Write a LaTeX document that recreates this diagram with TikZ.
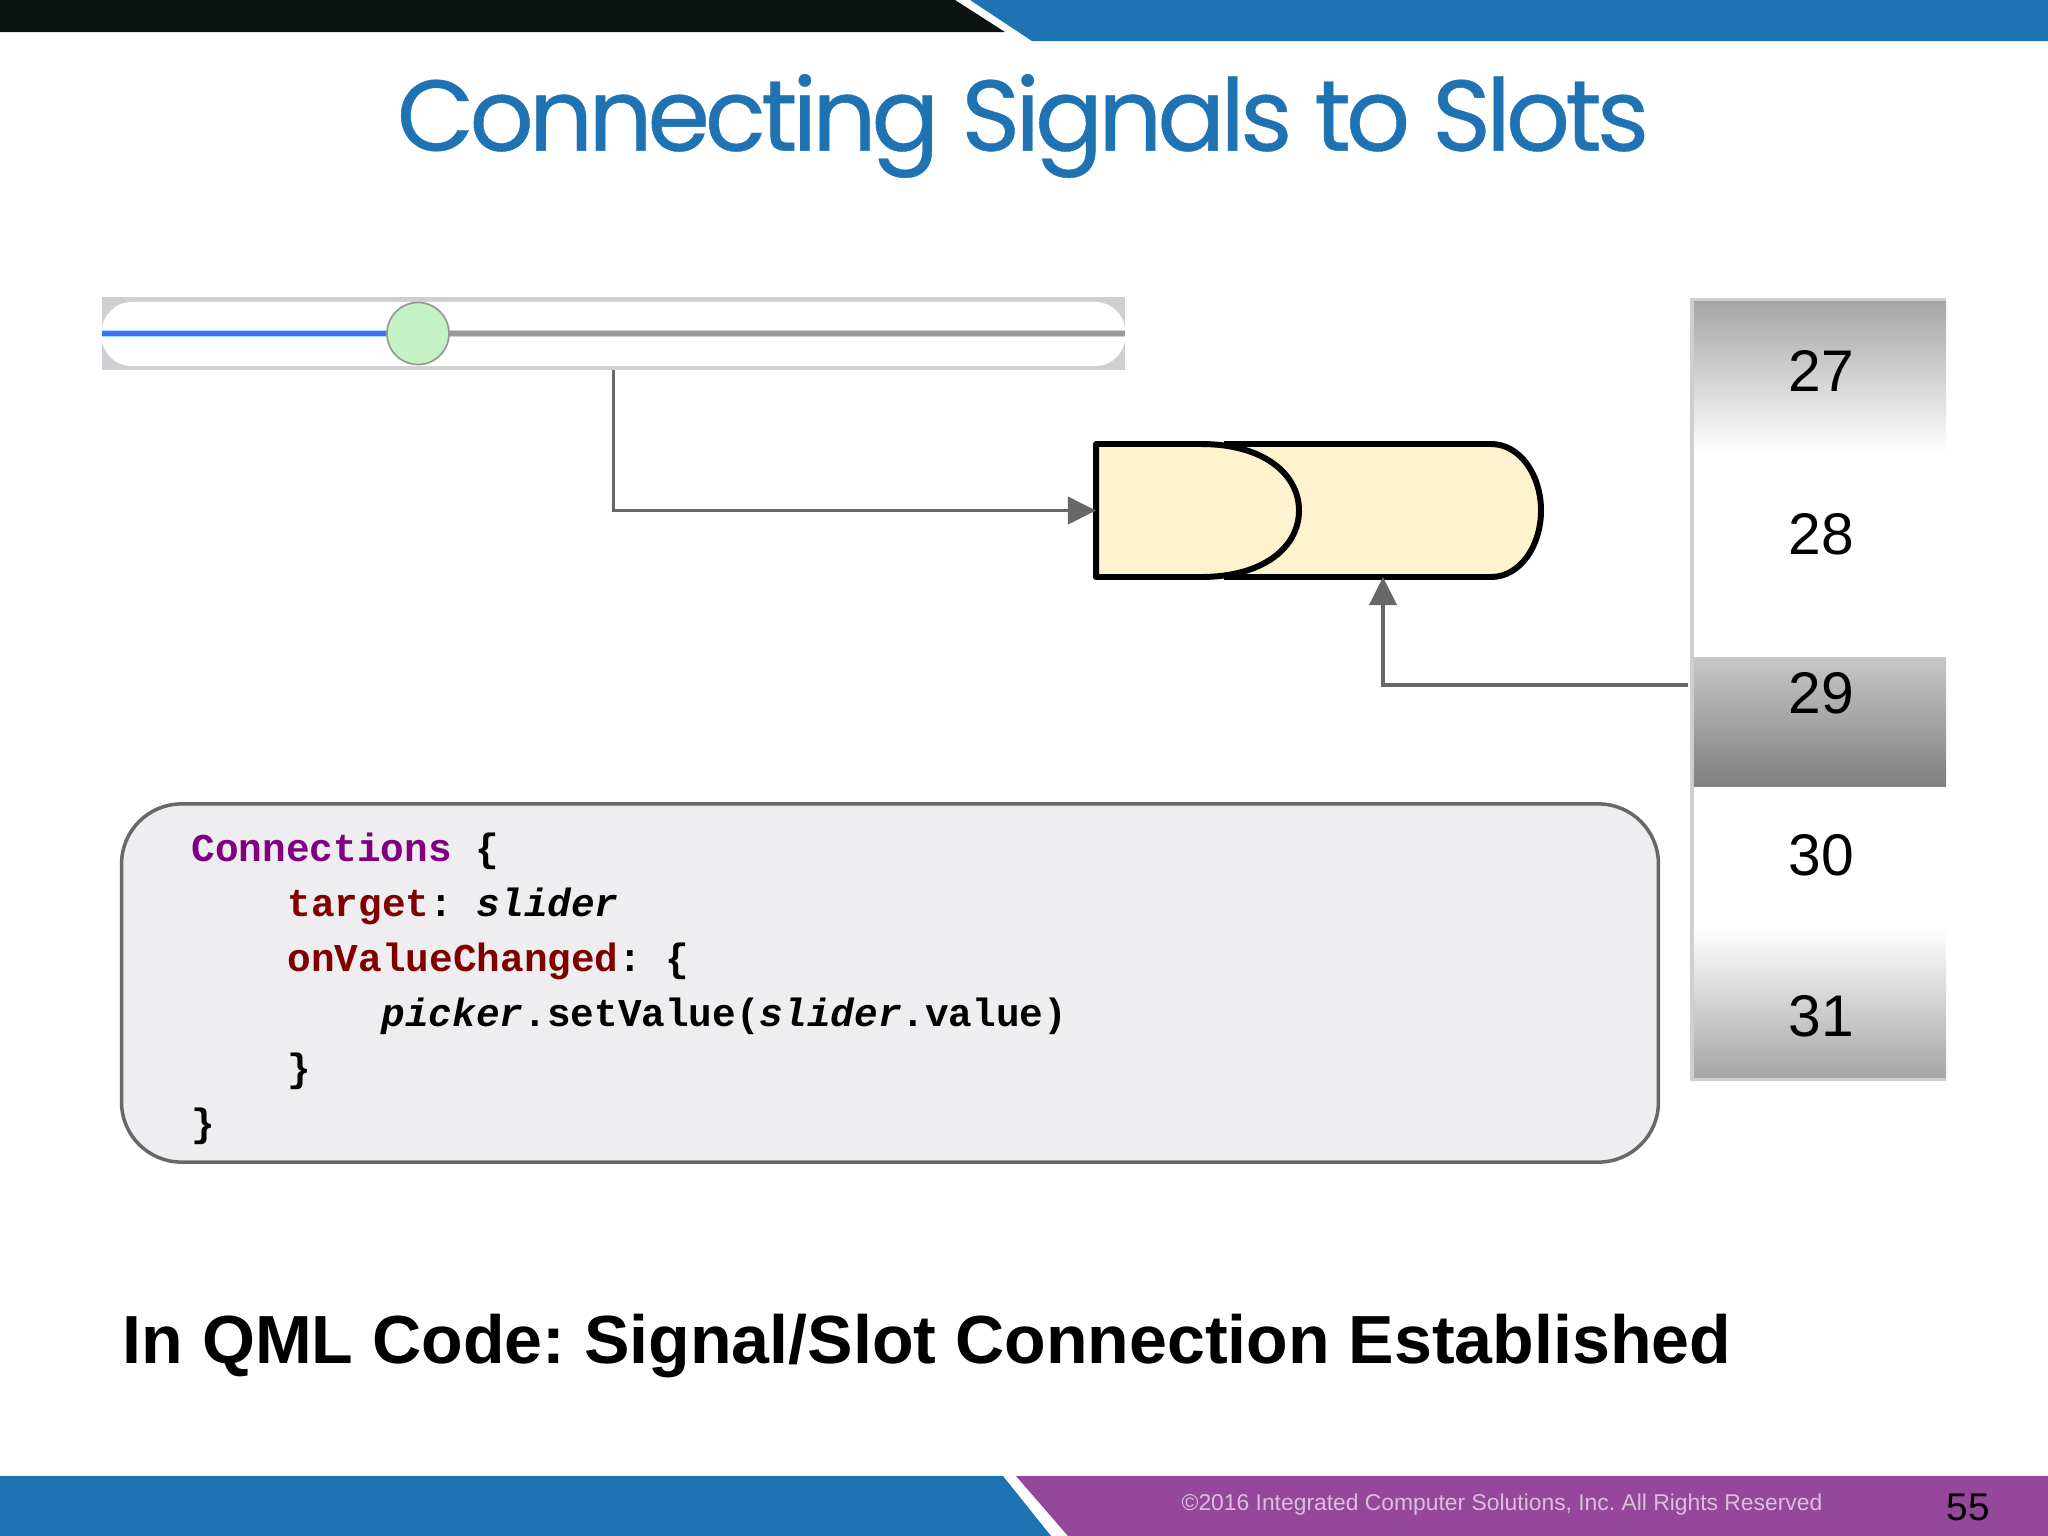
\documentclass[tikz,border=0pt]{standalone}
\usepackage{fontspec}
\setmainfont{Liberation Sans}
\newfontfamily\titlefont[LetterSpace=-5,FakeBold=.4]{Poppins}
\newfontfamily\codefont{Liberation Mono}
\usetikzlibrary{arrows.meta}
\definecolor{icsblue}{HTML}{1F73B3}
\definecolor{icspurple}{HTML}{94479B}
\definecolor{icsblack}{HTML}{0B1210}
\definecolor{wiregray}{HTML}{68686B}
\definecolor{gatefill}{HTML}{FFF2CF}
\definecolor{boxfill}{HTML}{EEEDEF}
\definecolor{edgegray}{HTML}{CFCED2}
\definecolor{typepurple}{HTML}{800080}
\definecolor{propred}{HTML}{800000}
\definecolor{handlegreen}{HTML}{C4F2C4}
\tikzset{
	wire/.style={draw=wiregray,line width=1.1pt,-{Triangle[length=.28cm,width=.27cm]}},
	gateline/.style={draw=black,line width=1.7pt,line join=round,fill=gatefill},
	codeline/.style={anchor=base west,inner sep=0,text=black,font=\codefont\bfseries\fontsize{11.2}{13}\selectfont},
	picknum/.style={inner sep=0,font=\fontsize{16.7}{20}\selectfont,text=black},
	pickband/.style={inner sep=0,minimum width=2.52cm}
}
\begin{document}
\frenchspacing
\begin{tikzpicture}[x=.01cm,y=-.01cm]
	\useasboundingbox (0,0) rectangle (2048,1536);
	\fill[white] (0,0) rectangle (2048,1536);

	\fill[icsblack] (0,0) -- (955,0) -- (1005,32) -- (0,32) -- cycle;
	\fill[icsblue] (970,0) -- (2048,0) -- (2048,41) -- (1032,41) -- cycle;
	\fill[icsblue] (0,1476) -- (1003,1476) -- (1051,1536) -- (0,1536) -- cycle;
	\fill[icspurple] (1016,1476) -- (2048,1476) -- (2048,1536) -- (1068,1536) -- cycle;

	\node[inner sep=0,text=icsblue,font=\titlefont\fontsize{28.6}{34}\selectfont] (title) at (1023,126) {Connecting Signals to Slots};

	\node[inner sep=0,outer sep=0,fill=edgegray,minimum width=10.23cm,minimum height=.73cm] (slider) at (613.5,333.5) {};
	\node[inner sep=0,fill=white,rounded corners=.3cm,minimum width=10.23cm,minimum height=.64cm] (sliderface) at (613.5,334) {};
	\node[circle,inner sep=0,minimum size=.62cm,draw=black!40,line width=.5pt,fill=handlegreen] (handle) at (418,333.5) {};
	\draw[color=blue!35!cyan!35!white,line width=2pt] (slider.west) -- (handle.west);
	\draw[color=blue!75!cyan!75!white,line width=1.3pt] (slider.west) -- (handle.west);
	\draw[color=edgegray,line width=2pt] (handle.east) -- (slider.east);
	\draw[color=black!40,line width=1.3pt] (handle.east) -- (slider.east);

	\fill[gatefill] (1224,444) -- (1491,444) .. controls (1520,444) and (1541,475) .. (1541,510.5) .. controls (1541,546) and (1520,577) .. (1491,577) -- (1224,577) -- cycle;
	\draw[gateline,fill=none] (1224,444) -- (1491,444) .. controls (1520,444) and (1541,475) .. (1541,510.5) .. controls (1541,546) and (1520,577) .. (1491,577) -- (1224,577);
	\draw[gateline] (1096,444) -- (1201,444) .. controls (1265,444) and (1299,475) .. (1299,510.5) .. controls (1299,546) and (1265,577) .. (1201,577) -- (1096,577) -- cycle;
	\coordinate (gatein) at (1096,510.5);
	\coordinate (gateout) at (1383,577);

	\node[inner sep=0,fill=edgegray,minimum width=2.56cm,minimum height=7.83cm] (picker) at (1818,689.5) {};
	\node[inner sep=0,fill=white,minimum width=2.52cm,minimum height=7.75cm] (pickerface) at (1820,689.5) {};
	\node[pickband,minimum height=1.51cm,top color=black!35,bottom color=white] (picktop) at (1820,377.5) {};
	\node[pickband,minimum height=1.28cm,top color=black!22,bottom color=black!50] (pickmid) at (1820,722) {};
	\node[pickband,minimum height=1.49cm,top color=white,bottom color=black!35] (pickbot) at (1820,1002.5) {};
	\foreach \num/\ypos in {27/371,28/534,29/693,30/855,31/1016}
		\node[picknum] (num\num) at (1821,\ypos) {\num};
	\coordinate (pickout) at (1688,685);

	\draw[wire] (slider.south) |- (gatein);
	\draw[wire] (pickout) -| (gateout);

	\node[draw=wiregray,line width=1pt,fill=boxfill,rounded corners=.6cm,inner sep=0,minimum width=15.36cm,minimum height=3.58cm] (codebox) at (890,983) {};
	\node[codeline] (line1) at (191,861) {\textcolor{typepurple}{Connections} \{};
	\node[codeline] (line2) at (287,916) {\textcolor{propred}{target}: \textit{slider}};
	\node[codeline] (line3) at (287,971) {\textcolor{propred}{onValueChanged}: \{};
	\node[codeline] (line4) at (381,1026) {\textit{picker}.setValue(\textit{slider}.value)};
	\node[codeline] (line5) at (287,1081) {\}};
	\node[codeline] (line6) at (191,1136) {\}};

	\node[anchor=base west,inner sep=0,font=\bfseries\fontsize{19.37}{24}\selectfont] (caption) at (122,1363) {In QML Code: Signal/Slot Connection Established};

	\node[inner sep=0,text=icspurple!35!white,font=\fontsize{6.5}{8}\selectfont] (rights) at (1502,1505) {©2016 Integrated Computer Solutions, Inc. All Rights Reserved};
	\node[inner sep=0,font=\fontsize{11}{14}\selectfont] (page) at (1968,1507) {55};
\end{tikzpicture}
\end{document}
